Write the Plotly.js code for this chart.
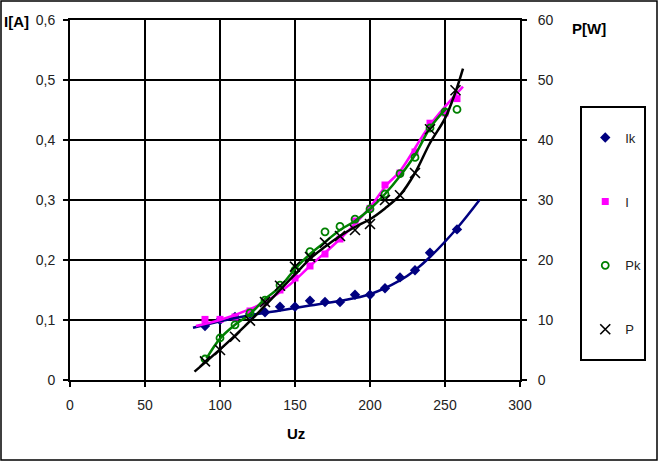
<!DOCTYPE html>
<html>
<head>
<meta charset="utf-8">
<script src="https://cdn.plot.ly/plotly-3.0.1.min.js"></script>
<style>
  body { margin: 0; background: #fff; }
  #chart { width: 658px; height: 461px; }
</style>
</head>
<body>
<div id="chart"></div>
<script>
var uIk = [90, 100, 110, 120, 130, 140, 150, 160, 170, 180, 190, 200, 210, 220, 230, 240, 258];
var ik  = [0.09, 0.10, 0.105, 0.11, 0.113, 0.122, 0.122, 0.132, 0.13, 0.13, 0.142, 0.142, 0.153, 0.171, 0.183, 0.212, 0.251];

var uI = [90, 100, 110, 120, 130, 140, 150, 160, 170, 180, 190, 200, 210, 220, 230, 240, 250, 258];
var iVals = [0.101, 0.101, 0.105, 0.115, 0.13, 0.15, 0.17, 0.19, 0.21, 0.235, 0.265, 0.286, 0.325, 0.345, 0.38, 0.428, 0.445, 0.469];

var uPk = [90, 100, 110, 120, 130, 140, 150, 160, 170, 180, 190, 200, 210, 220, 230, 240, 250, 258];
var pk  = [3.5, 7.0, 9.2, 11.2, 13.3, 15.8, 18.3, 21.4, 24.7, 25.6, 26.8, 28.5, 31.0, 34.4, 37.1, 42.0, 44.7, 45.1];

var uP = [90, 100, 110, 120, 130, 140, 150, 160, 170, 180, 190, 200, 210, 220, 230, 240, 257];
var p  = [3.1, 5.0, 7.2, 9.9, 13.0, 15.7, 18.9, 20.5, 22.9, 24.0, 25.0, 26.0, 30.0, 30.8, 34.5, 41.8, 48.3];

// trend curves, also
var tuIk = [82, 100, 120, 140, 160, 180, 200, 220, 230, 240, 258, 273];
var tIk  = [0.087, 0.098, 0.108, 0.116, 0.124, 0.132, 0.143, 0.166, 0.183, 0.205, 0.253, 0.30];

var tuI = [84, 100, 120, 130, 147, 160, 180, 200, 211, 220, 240, 262];
var tI  = [0.09, 0.10, 0.118, 0.13, 0.16, 0.19, 0.235, 0.288, 0.325, 0.348, 0.425, 0.489];

var tuPk = [91, 100, 110, 120, 130, 140, 150, 160, 170, 180, 190, 200, 210, 220, 230, 240, 251];
var tPk  = [3.6, 6.9, 9.2, 11.0, 13.5, 15.5, 18.5, 21.0, 23.0, 25.0, 26.5, 28.5, 31.0, 34.0, 37.5, 42.0, 45.3];

var tuP = [83, 90, 100, 110, 120, 130, 140, 150, 160, 170, 180, 190, 200, 210, 220, 230, 240, 250, 257, 262];
var tP  = [1.4, 2.9, 5.1, 7.4, 9.8, 12.4, 15.0, 17.6, 20.2, 22.2, 24.0, 25.5, 26.8, 28.6, 30.8, 34.5, 39.5, 43.6, 48.0, 51.9];

var xTicks = [0, 50, 100, 150, 200, 250, 300];
var yTicks = [0, 0.1, 0.2, 0.3, 0.4, 0.5, 0.6];
var yTickText = ['0', '0,1', '0,2', '0,3', '0,4', '0,5', '0,6'];
var y2Ticks = [0, 10, 20, 30, 40, 50, 60];

var NAVY = '#000080', PINK = '#ff00ff', GREEN = '#008000';
var FONT = 'Liberation Sans, Arial, sans-serif';

function trend(x, y, color, axis) {
  return { x: x, y: y, yaxis: axis, type: 'scatter', mode: 'lines', showlegend: false,
           hoverinfo: 'skip', line: { color: color, width: 2.5, shape: 'spline' } };
}

var data = [
  { x: uIk, y: ik, name: 'Ik', legendgroup: 'a', type: 'scatter', mode: 'markers',
    marker: { symbol: 'diamond', size: 8, color: NAVY } },
  { x: uI, y: iVals, name: 'I', legendgroup: 'b', type: 'scatter', mode: 'markers',
    marker: { symbol: 'square', size: 7, color: PINK } },
  { x: uPk, y: pk, name: 'Pk', legendgroup: 'c', yaxis: 'y2', type: 'scatter', mode: 'markers',
    marker: { symbol: 'circle-open', size: 7, color: GREEN, line: { width: 1.8, color: GREEN } } },
  trend(tuIk, tIk, NAVY, 'y'),
  trend(tuP, tP, 'black', 'y2'),
  trend(tuPk, tPk, GREEN, 'y2'),
  trend(tuI, tI, PINK, 'y'),
  { x: uP, y: p, name: 'P', legendgroup: 'd', yaxis: 'y2', type: 'scatter', mode: 'markers',
    marker: { symbol: 'x-thin-open', size: 10, color: 'black', line: { width: 1.6, color: 'black' } } }
];

var axisBase = {
  showline: true, linecolor: 'black', linewidth: 2,
  ticks: 'outside', ticklen: 5, tickwidth: 2, tickcolor: 'black',
  zeroline: false, fixedrange: true,
  tickfont: { family: FONT, size: 14, color: '#222' }
};

var layout = {
  width: 658, height: 461,
  margin: { l: 70, r: 138, t: 20, b: 81 },
  paper_bgcolor: 'white', plot_bgcolor: 'white',
  font: { family: FONT, size: 13, color: 'black' },
  showlegend: true,
  xaxis: Object.assign({}, axisBase, {
    range: [0, 300], tickvals: xTicks, mirror: true,
    showgrid: true, gridcolor: 'black', gridwidth: 2, ticklabelstandoff: 6
  }),
  yaxis: Object.assign({}, axisBase, {
    range: [0, 0.6], tickvals: yTicks, ticktext: yTickText,
    showgrid: true, gridcolor: 'black', gridwidth: 2, ticklabelstandoff: 5
  }),
  yaxis2: Object.assign({}, axisBase, {
    range: [0, 60], tickvals: y2Ticks, overlaying: 'y', side: 'right',
    showgrid: false, ticklabelstandoff: 8
  }),
  legend: {
    x: 1.145, xanchor: 'left', y: 0.715, yanchor: 'top',
    bgcolor: 'rgba(0,0,0,0)', borderwidth: 0,
    tracegroupgap: 44,
    font: { family: FONT, size: 13, color: '#222' }
  },
  shapes: [
    // legend box
    { type: 'rect', xref: 'paper', yref: 'paper',
      x0: (581 - 70) / 450, x1: (645 - 70) / 450,
      y0: (380 - 360) / 360, y1: (380 - 107) / 360,
      line: { color: 'black', width: 2 } },
    // outer frame
    { type: 'rect', xref: 'paper', yref: 'paper',
      x0: (1 - 70) / 450, x1: (657 - 70) / 450,
      y0: (380 - 460) / 360, y1: (380 - 1) / 360,
      line: { color: 'black', width: 1.5 } }
  ],
  annotations: [
    { text: '<b>I[A]</b>', xref: 'paper', yref: 'paper', x: (16 - 70) / 450, y: (380 - 22) / 360,
      xanchor: 'center', yanchor: 'middle',
      showarrow: false, font: { family: FONT, size: 15, color: 'black' } },
    { text: '<b>P[W]</b>', xref: 'paper', yref: 'paper', x: (589 - 70) / 450, y: (380 - 28) / 360,
      xanchor: 'center', yanchor: 'middle',
      showarrow: false, font: { family: FONT, size: 15, color: 'black' } },
    { text: '<b>Uz</b>', xref: 'paper', yref: 'paper', x: (296 - 70) / 450, y: (380 - 433) / 360,
      xanchor: 'center', yanchor: 'middle',
      showarrow: false, font: { family: FONT, size: 15, color: 'black' } }
  ]
};

Plotly.newPlot('chart', data, layout, { displayModeBar: false, staticPlot: true });
</script>
</body>
</html>
